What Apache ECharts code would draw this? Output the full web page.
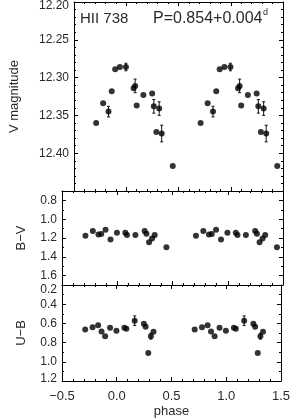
<!DOCTYPE html>
<html>
<head>
<meta charset="utf-8">
<script src="https://cdn.jsdelivr.net/npm/echarts@6/dist/echarts.min.js"></script>
<style>html,body{margin:0;padding:0;background:#fff}#c{width:293px;height:419px}</style>
</head>
<body>
<div id="c"></div>
<script>
// ---- data (one phase cycle; plotted twice at phase and phase+1) ----
const vPhase = [-0.288,-0.221,-0.170,-0.139,-0.106,-0.061,-0.003,0.070,0.085,0.100,0.164,0.248,0.264,0.288,0.315,0.339,0.445];
const vMag   = [12.360,12.334,12.345,12.318,12.289,12.286,12.286,12.314,12.311,12.337,12.323,12.321,12.338,12.372,12.341,12.374,12.417];
const vErr   = [0,0,0.007,0,0,0,0.005,0,0.009,0,0,0,0.009,0,0.009,0.011,0];

const bvPhase = [-0.288,-0.221,-0.170,-0.145,-0.106,-0.061,-0.003,0.073,0.088,0.164,0.248,0.264,0.288,0.315,0.339,0.445];
const bvVal   = [1.176,1.126,1.162,1.158,1.113,1.215,1.144,1.144,1.168,1.168,1.126,1.155,1.246,1.204,1.168,1.299];

const ubPhase = [-0.288,-0.221,-0.170,-0.139,-0.106,-0.061,-0.003,0.070,0.088,0.164,0.248,0.264,0.288,0.312,0.336];
const ubVal   = [0.663,0.639,0.618,0.684,0.733,0.646,0.677,0.646,0.656,0.572,0.603,0.635,0.908,0.733,0.687];
const ubErr   = [0,0,0,0,0,0,0,0,0,0.05,0,0,0,0.03,0];

const bvMajor = [0.8, 1.0, 1.2, 1.4, 1.6];
const bvMinor = [0.7, 0.9, 1.1, 1.3, 1.5, 1.7];

const titleStar = 'HII 738';
const titlePeriod = 'P=0.854+0.004';

// ---- helpers ----
function twoCycles(ph, vals) {
  const out = [];
  ph.forEach((p, i) => out.push([p, vals[i]]));
  ph.forEach((p, i) => out.push([p + 1, vals[i]]));
  return out;
}
function errPts(ph, vals, errs) {
  const out = [];
  [0, 1].forEach(k => ph.forEach((p, i) => { if (errs[i] > 0) out.push([p + k, vals[i], errs[i]]); }));
  return out;
}
const FONT = 'Liberation Sans, Arial, sans-serif';
const TXT = '#2a2a2a';
const axLine = { show: true, onZero: false, lineStyle: { color: '#000', width: 1 } };
const noLine = { show: false, onZero: false };
const majTick = { show: true, inside: true, length: 4, lineStyle: { color: '#000', width: 1 } };
const minTick = (n) => ({ show: true, splitNumber: n, length: 2, lineStyle: { color: '#000', width: 1 } });

function xAx(grid, pos, labels) {
  const a = {
    type: 'value', gridIndex: grid, position: pos, min: -0.5, max: 1.5, interval: 0.5,
    axisLine: axLine, axisTick: majTick, minorTick: minTick(5), splitLine: { show: false },
    axisLabel: { show: !!labels, margin: 9, fontSize: 13, color: TXT, fontFamily: FONT,
      formatter: v => v.toFixed(1).replace('-', '\u2212') }
  };
  if (labels) {
    a.name = 'phase'; a.nameLocation = 'middle'; a.nameGap = 24;
    a.nameTextStyle = { fontSize: 13, color: TXT, fontFamily: FONT };
  }
  return a;
}
function errSeries(xi, yi, data) {
  return {
    type: 'custom', xAxisIndex: xi, yAxisIndex: yi, data: data, z: 3,
    renderItem: (params, api) => {
      const x = api.value(0), y = api.value(1), e = api.value(2);
      const a = api.coord([x, y - e]), b = api.coord([x, y + e]);
      const st = { stroke: '#111', lineWidth: 1 };
      return { type: 'group', children: [
        { type: 'line', shape: { x1: a[0], y1: a[1], x2: b[0], y2: b[1] }, style: st },
        { type: 'line', shape: { x1: a[0] - 1.5, y1: a[1], x2: a[0] + 1.5, y2: a[1] }, style: st },
        { type: 'line', shape: { x1: b[0] - 1.5, y1: b[1], x2: b[0] + 1.5, y2: b[1] }, style: st }
      ]};
    }
  };
}
function dots(xi, yi, data) {
  return { type: 'scatter', xAxisIndex: xi, yAxisIndex: yi, data: data, symbol: 'circle',
    symbolSize: 6, itemStyle: { color: '#000' }, z: 4, silent: true };
}
const lblBase = { fontSize: 12, color: TXT, fontFamily: FONT, margin: 5 };

const option = {
  animation: false,
  backgroundColor: '#fff',
  grid: [
    { left: 62, right: 10, top: 1, height: 190 },
    { left: 62, right: 10, top: 191, height: 94 },
    { left: 62, right: 10, top: 285, height: 96 }
  ],
  xAxis: [
    xAx(0, 'bottom'), xAx(0, 'top'),
    xAx(1, 'bottom'), xAx(1, 'top'),
    xAx(2, 'bottom', true), xAx(2, 'top')
  ],
  yAxis: [
    { type: 'value', gridIndex: 0, position: 'left', inverse: true, min: 12.20, max: 12.45, interval: 0.05,
      axisLine: axLine, axisTick: majTick, minorTick: minTick(5), splitLine: { show: false },
      axisLabel: Object.assign({}, lblBase, { showMaxLabel: false,
        formatter: v => Math.abs(v - 12.2) < 1e-6 ? '{t|12.20}' : v.toFixed(2),
        rich: { t: { fontSize: 12, color: TXT, fontFamily: FONT, padding: [8, 0, 0, 0] } } }),
      name: 'V magnitude', nameLocation: 'middle', nameGap: 53, nameRotate: 90,
      nameTextStyle: { fontSize: 13, color: TXT, fontFamily: FONT } },
    { type: 'value', gridIndex: 0, position: 'right', inverse: true, min: 12.20, max: 12.45, interval: 0.05,
      axisLine: axLine, axisTick: majTick, minorTick: minTick(5), splitLine: { show: false }, axisLabel: { show: false } },
    // B-V, majors
    { type: 'value', gridIndex: 1, position: 'left', inverse: true, min: 0.7, max: 1.7, interval: 0.1,
      axisLine: axLine, axisTick: Object.assign({}, majTick, { customValues: bvMajor }), splitLine: { show: false },
      axisLabel: Object.assign({}, lblBase, { customValues: bvMajor, formatter: v => v.toFixed(1) }),
      name: 'B\u2212V', nameLocation: 'middle', nameGap: 34, nameRotate: 90,
      nameTextStyle: { fontSize: 13, color: TXT, fontFamily: FONT } },
    { type: 'value', gridIndex: 1, position: 'right', inverse: true, min: 0.7, max: 1.7, interval: 0.1,
      axisLine: axLine, axisTick: Object.assign({}, majTick, { customValues: bvMajor }), splitLine: { show: false },
      axisLabel: { show: false } },
    // B-V, minors
    { type: 'value', gridIndex: 1, position: 'left', inverse: true, min: 0.7, max: 1.7, interval: 0.1,
      axisLine: noLine, axisTick: { show: true, inside: true, length: 2, customValues: bvMinor, lineStyle: { color: '#000' } },
      splitLine: { show: false }, axisLabel: { show: false } },
    { type: 'value', gridIndex: 1, position: 'right', inverse: true, min: 0.7, max: 1.7, interval: 0.1,
      axisLine: noLine, axisTick: { show: true, inside: true, length: 2, customValues: bvMinor, lineStyle: { color: '#000' } },
      splitLine: { show: false }, axisLabel: { show: false } },
    // U-B
    { type: 'value', gridIndex: 2, position: 'left', inverse: true, min: 0.2, max: 1.2, interval: 0.2,
      axisLine: axLine, axisTick: majTick, minorTick: minTick(2), splitLine: { show: false },
      axisLabel: Object.assign({}, lblBase, {
        formatter: v => Math.abs(v - 0.2) < 1e-6 ? '{d|0.2}' : (Math.abs(v - 1.2) < 1e-6 ? '{u|1.2}' : v.toFixed(1)),
        rich: { d: { fontSize: 12, color: TXT, fontFamily: FONT, padding: [9, 0, 0, 0] },
                u: { fontSize: 12, color: TXT, fontFamily: FONT, padding: [0, 0, 4, 0] } } }),
      name: 'U\u2212B', nameLocation: 'middle', nameGap: 34, nameRotate: 90,
      nameTextStyle: { fontSize: 13, color: TXT, fontFamily: FONT } },
    { type: 'value', gridIndex: 2, position: 'right', inverse: true, min: 0.2, max: 1.2, interval: 0.2,
      axisLine: axLine, axisTick: majTick, minorTick: minTick(2), splitLine: { show: false }, axisLabel: { show: false } }
  ],
  graphic: [
    { type: 'text', x: 80, y: 19, style: { text: titleStar, font: '15px ' + FONT, fill: TXT, verticalAlign: 'middle' } },
    { type: 'text', x: 153, y: 19, style: { text: titlePeriod, font: '16px ' + FONT, fill: TXT, verticalAlign: 'middle' } },
    { type: 'text', x: 263, y: 13, style: { text: 'd', font: '9px ' + FONT, fill: TXT, verticalAlign: 'middle' } }
  ],
  series: [
    errSeries(0, 0, errPts(vPhase, vMag, vErr)),
    dots(0, 0, twoCycles(vPhase, vMag)),
    dots(2, 2, twoCycles(bvPhase, bvVal)),
    errSeries(4, 6, errPts(ubPhase, ubVal, ubErr)),
    dots(4, 6, twoCycles(ubPhase, ubVal))
  ]
};
const chart = echarts.init(document.getElementById('c'), null, { renderer: 'canvas' });
chart.setOption(option);
</script>
</body>
</html>
